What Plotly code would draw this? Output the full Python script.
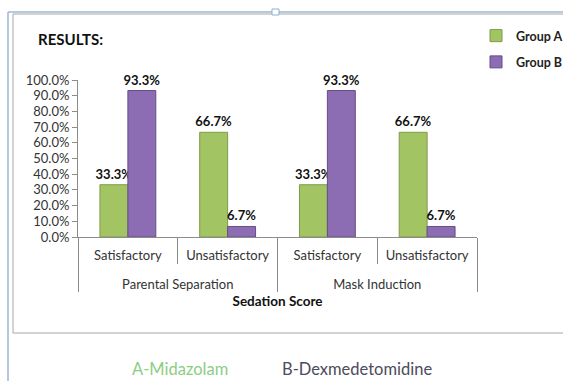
import plotly.graph_objects as go

# ---- data ----
procedures = ["Parental Separation", "Parental Separation", "Mask Induction", "Mask Induction"]
scores = ["Satisfactory", "Unsatisfactory", "Satisfactory", "Unsatisfactory"]
group_a = [33.3, 66.7, 33.3, 66.7]
group_b = [93.3, 6.7, 93.3, 6.7]
series_names = ["Group A", "Group B"]
y_ticks = [0, 10, 20, 30, 40, 50, 60, 70, 80, 90, 100]

W, H = 563, 381
L, R, T, B = 78, 86, 80, 144
PW, PH = W - L - R, H - T - B


def px(x):
    return (x - L) / PW


def py(y):
    return (H - B - y) / PH


FONT = "Lato"
green, purple = "#A3C462", "#8C6CB2"

# inner labels get an empty second line so the outer row sits lower
inner_labels = [s + "<br> " for s in scores]

fig = go.Figure()
for name, vals, col, lc in [(series_names[0], group_a, green, "#7f9a48"),
                            (series_names[1], group_b, purple, "#674d88")]:
    fig.add_trace(go.Bar(
        x=[procedures, inner_labels], y=vals, name=name, legendgroup=name,
        marker=dict(color=col, line=dict(color=lc, width=1)),
        text=[f"{v:.1f}%" for v in vals], textposition="outside",
        constraintext="none",
        textfont=dict(family=FONT, size=13, color="#111", weight="bold"),
        cliponaxis=False,
    ))

fig.update_layout(
    width=W, height=H,
    margin=dict(l=L, r=R, t=T, b=B, autoexpand=False),
    paper_bgcolor="white", plot_bgcolor="white",
    barmode="group", bargap=0.44, bargroupgap=0,
    font=dict(family=FONT, size=13, color="#333"),
    showlegend=True,
    legend=dict(x=px(476), y=py(21), xanchor="left", yanchor="top",
                font=dict(family=FONT, size=12.5, color="#222", weight="bold"),
                traceorder="grouped", tracegroupgap=7, itemwidth=30,
                bgcolor="rgba(0,0,0,0)"),
    title=dict(text="<b>RESULTS:</b>", x=38 / W, xanchor="left", xref="container",
               y=1 - 40 / H, yanchor="middle", yref="container",
               font=dict(family=FONT, size=15, color="#111")),
)

fig.update_yaxes(range=[0, 100], tickvals=y_ticks,
                 ticktext=[f"{v:.1f}%" for v in y_ticks],
                 showline=True, linecolor="#8c8c8c", linewidth=1,
                 ticks="outside", ticklen=5, tickcolor="#8c8c8c",
                 showgrid=False, zeroline=False,
                 tickfont=dict(family=FONT, size=13, color="#333"))
fig.update_xaxes(type="multicategory", showline=True, linecolor="#8c8c8c",
                 linewidth=1, ticks="outside", tickson="boundaries", ticklen=26,
                 tickcolor="#8c8c8c", showdividers=True, dividercolor="#8c8c8c",
                 dividerwidth=1, showgrid=False, ticklabelstandoff=6,
                 tickfont=dict(family=FONT, size=13, color="#333"),
                 title=dict(text="<b>Sedation Score</b>", standoff=6,
                            font=dict(family=FONT, size=13.5, color="#111")))

# frames
fig.add_shape(type="rect", xref="paper", yref="paper",
              x0=px(13), x1=px(600), y0=py(333), y1=py(14),
              line=dict(color="#a6a6a6", width=1), layer="below")
fig.add_shape(type="line", xref="paper", yref="paper",
              x0=px(8), x1=px(600), y0=py(12), y1=py(12),
              line=dict(color="#9db7d6", width=1.5))
fig.add_shape(type="line", xref="paper", yref="paper",
              x0=px(8), x1=px(8), y0=py(12), y1=py(400),
              line=dict(color="#9db7d6", width=1.5))
fig.add_shape(type="rect", xref="paper", yref="paper",
              x0=px(272), x1=px(279), y0=py(15), y1=py(9),
              line=dict(color="#8fb0d6", width=1), fillcolor="white")

fig.add_annotation(text="A-Midazolam", xref="paper", yref="paper",
                   x=px(180), y=py(369), xanchor="center", yanchor="middle",
                   showarrow=False,
                   font=dict(family=FONT, size=16.5, color="#8ccd84"))
fig.add_annotation(text="B-Dexmedetomidine", xref="paper", yref="paper",
                   x=px(357), y=py(369), xanchor="center", yanchor="middle",
                   showarrow=False,
                   font=dict(family=FONT, size=16.5, color="#4c4c5c"))

fig.write_html("out.html")
